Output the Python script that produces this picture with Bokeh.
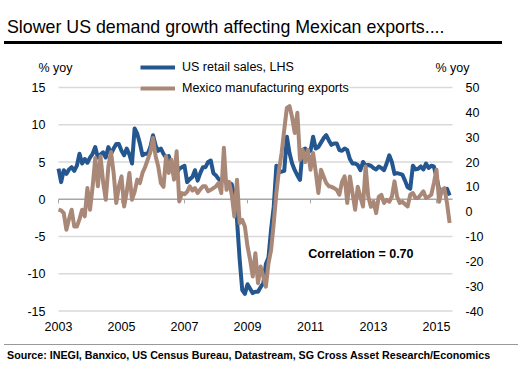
from bokeh.plotting import figure
from bokeh.models import (Range1d, Legend, LegendItem, Label, FixedTicker, Div)
from bokeh.layouts import column
from bokeh.embed import file_html
from bokeh.resources import INLINE
from bokeh.core.properties import value

start_year = 2003
year_ticks = [2003, 2005, 2007, 2009, 2011, 2013, 2015]
left_ticks = [-15, -10, -5, 0, 5, 10, 15]
left_labels = ["-15", "-10", "-5", "0", "5", "10", "15"]
right_ticks = [-40, -30, -20, -10, 0, 10, 20, 30, 40, 50]
right_labels = ["-40", "-30", "-20", "-10", "0", "10", "20", "30", "40", "50"]

us_retail = [4.1, 2.3, 3.9, 3.4, 4.0, 4.3, 3.8, 4.5, 6.1, 4.8,
             5.4, 4.9, 5.6, 6.1, 7.0, 5.6, 6.0, 6.3, 5.6, 7.0,
             6.1, 6.8, 7.4, 7.4, 6.5, 5.9, 6.8, 6.0, 4.8, 9.5,
             8.8, 7.5, 5.9, 6.1, 6.1, 7.0, 8.6, 7.2, 6.5, 6.8,
             6.1, 5.6, 5.8, 4.5, 3.2, 3.4, 4.1, 4.3, 4.5, 2.3,
             2.7, 3.0, 3.9, 2.5, 3.5, 4.3, 4.3, 5.0, 5.2, 3.5,
             3.2, 2.7, 2.5, 3.0, 2.1, 2.2, 2.0, 0.5, -2.8, -8.0,
             -12.2, -12.7, -11.4, -12.0, -12.6, -12.4, -12.4, -11.8, -11.3, -8.7,
             -7.8, -4.0, -1.0, 4.5, 3.6, 3.7, 3.8, 8.4, 6.2, 4.8,
             3.9, 3.2, 2.6, 6.6, 6.8, 6.4, 6.5, 8.4, 6.8, 7.0,
             7.6, 8.2, 8.6, 7.9, 7.3, 7.5, 7.5, 6.6, 6.5, 6.8,
             6.6, 5.4, 4.8, 4.8, 4.6, 3.9, 5.0, 4.5, 4.6, 4.5,
             4.2, 4.0, 4.4, 4.2, 3.9, 4.8, 5.9, 5.0, 3.4, 3.5,
             3.4, 3.3, 2.5, 1.6, 1.4, 4.5, 4.0, 4.1, 4.4, 4.0,
             4.8, 4.2, 4.5, 4.4, 3.0, 1.3, 0.9, 1.2, 1.4, 0.5]

mex_exports = [0.8, 0.5, -0.6, -7.3, -3.0, 0.8, -6.0, -6.0, -3.0, 0.8,
               -1.9, 9.5, 0.8, 10.0, 21.6, 10.2, 22.3, 12.0, 4.8, 18.2,
               24.0, 15.6, 3.5, 10.2, 14.2, 2.1, 8.0, 15.6, 4.8, 8.0,
               12.9, 11.5, 15.6, 18.0, 21.0, 24.0, 29.7, 22.3, 18.2, 11.5,
               10.0, 22.3, 15.6, 20.9, 12.9, 24.3, 4.1, 7.5, 7.0, 8.0,
               10.2, 8.5, 9.5, 7.5, 9.0, 10.2, 10.2, 8.2, 8.8, 9.5,
               10.2, 11.5, 7.5, 25.7, 8.8, 12.0, 6.8, -1.9, 12.9, -4.6,
               -3.3, -6.0, -14.0, -19.4, -26.1, -16.7, -28.8, -22.1, -26.0, -30.2,
               -20.7, -15.4, -4.6, 7.5, 16.9, 23.6, 33.0, 41.8, 42.5, 38.0,
               31.7, 39.8, 20.9, 24.9, 20.0, 24.9, 16.9, 23.6, 16.0, 7.5,
               16.9, 14.2, 11.5, 10.2, 10.0, 9.5, 8.8, 6.8, 12.0, 14.2,
               3.5, 14.2, 7.5, 0.8, 10.0, 6.0, 2.1, 18.2, 6.1, 2.0,
               4.0, -0.6, 6.0, 6.8, 3.5, 4.8, 4.0, 6.0, 12.2, 6.0,
               3.5, 4.0, 3.0, 2.1, 6.8, 7.5, 5.5, 5.5, 6.8, 8.2,
               5.5, 6.0, 6.8, 11.5, 16.9, 4.0, 8.8, 9.5, 3.5, -4.6]

months = [start_year + i / 12 for i in range(len(us_retail))]

FONT = "Liberation Sans"
BLUE = "#245790"
BROWN = "#AA8878"
GRID = "#D9D9D9"
ZERO = "#A6A6A6"

# ---- layout geometry (pixels) ----
FIG_W, FIG_H = 518, 300
B_BOTTOM = 26
frame_h = FIG_H - B_BOTTOM
PLOT_L, PLOT_R = 58, 452          # plotting area inside the frame
YEARS_SPAN = 12.508
PX_YEAR = (PLOT_R - PLOT_L) / YEARS_SPAN
PX_UNIT = 7.45                    # pixels per left-axis unit
BELOW_M15 = 7.5                   # pixels from the -15 line to frame bottom
grid_end = start_year + YEARS_SPAN
x_start = start_year - PLOT_L / PX_YEAR
x_end = start_year + (FIG_W - PLOT_L) / PX_YEAR
y_bot = -15 - BELOW_M15 / PX_UNIT
y_top = y_bot + frame_h / PX_UNIT
ry = lambda v: -40 + 3 * (v + 15)

p = figure(width=FIG_W, height=FIG_H, title=None,
           x_range=Range1d(x_start, x_end), y_range=Range1d(y_bot, y_top),
           y_axis_location=None,
           output_backend="svg", toolbar_location=None,
           min_border_left=0, min_border_right=0,
           min_border_top=0, min_border_bottom=B_BOTTOM)
p.outline_line_color = None
p.grid.visible = False
p.extra_y_ranges = {"right": Range1d(ry(y_bot), ry(y_top))}

# horizontal gridlines over the plotting area
n = len(left_ticks)
p.segment(x0=[start_year] * n, x1=[grid_end] * n, y0=left_ticks, y1=left_ticks,
          line_color=[ZERO if t == 0 else GRID for t in left_ticks], line_width=1.5)
# year tick marks on the zero line
p.segment(x0=year_ticks, y0=[0] * len(year_ticks), x1=year_ticks,
          y1=[-0.55] * len(year_ticks), line_color=ZERO, line_width=1)

# bottom (year) axis
ax = p.xaxis[0]
ax.ticker = FixedTicker(ticks=year_ticks)
ax.axis_line_color = None
ax.major_tick_line_color = None
ax.minor_tick_line_color = None
ax.major_tick_out = 0
ax.major_tick_in = 0
ax.major_label_standoff = 3
ax.major_label_text_font = FONT
ax.major_label_text_font_size = "12.5px"
ax.major_label_text_color = "#000000"

# value-axis tick labels on both sides
p.text(x=[start_year] * n, y=left_ticks, text=left_labels, x_offset=-13,
       text_align="right", text_baseline="middle", text_font=value(FONT),
       text_font_size=value("12.5px"), text_color="#000000")
p.text(x=[grid_end] * len(right_ticks), y=right_ticks, text=right_labels,
       y_range_name="right", x_offset=13,
       text_align="left", text_baseline="middle", text_font=value(FONT),
       text_font_size=value("12.5px"), text_color="#000000")

r1 = p.line(months, us_retail, line_color=BLUE, line_width=4, line_join="round")
r2 = p.line(months, mex_exports, y_range_name="right", line_color=BROWN,
            line_width=4, line_join="round")

legend = Legend(items=[LegendItem(label="US retail sales, LHS", renderers=[r1]),
                       LegendItem(label="Mexico manufacturing exports", renderers=[r2])],
                location=(140, frame_h - (98 - 44)), glyph_width=35,
                glyph_height=20, label_height=20,
                label_standoff=7, spacing=1, padding=0, margin=0,
                border_line_color=None, background_fill_color="white",
                background_fill_alpha=1, label_text_font=FONT,
                label_text_font_size="12.5px", label_text_color="#000000")
p.add_layout(legend)

yoy_y = 15 + 20 / PX_UNIT
p.add_layout(Label(x=start_year - 3 / PX_YEAR, y=yoy_y, text="% yoy",
                   text_align="center", text_baseline="middle", text_font=FONT,
                   text_font_size="12.5px", text_color="#000000"))
p.add_layout(Label(x=grid_end, y=yoy_y, text="% yoy",
                   text_align="center", text_baseline="middle", text_font=FONT,
                   text_font_size="12.5px", text_color="#000000"))

p.add_layout(Label(x=2012.6, y=-7.3, text="Correlation = 0.70", text_align="center",
                   text_baseline="middle", text_font=FONT, text_font_style="bold",
                   text_font_size="12.5px", text_color="#000000"))

title = Div(text=('<div style="margin-left:4px;width:498px;height:44px;box-sizing:border-box;'
                  'border-bottom:3px solid #000;padding-top:16px;padding-left:3px;'
                  "font-family:'Liberation Sans';font-size:17.8px;line-height:22px;"
                  'color:#000;white-space:nowrap;">'
                  'Slower US demand growth affecting Mexican exports....</div>'),
            width=518, height=44, margin=0)

source = Div(text=('<div style="margin-left:4px;width:514px;height:34px;box-sizing:border-box;'
                   'border-top:1px solid #999;padding-top:4px;padding-left:3px;'
                   "font-family:'Liberation Sans';font-size:10.7px;font-weight:bold;"
                   'line-height:12px;color:#000;white-space:nowrap;">'
                   'Source: INEGI, Banxico, US Census Bureau, Datastream, '
                   'SG Cross Asset Research/Economics</div>'),
             width=518, height=34, margin=0)

layout = column(title, p, source, spacing=0)
open("out.html", "w").write(file_html(layout, INLINE))
